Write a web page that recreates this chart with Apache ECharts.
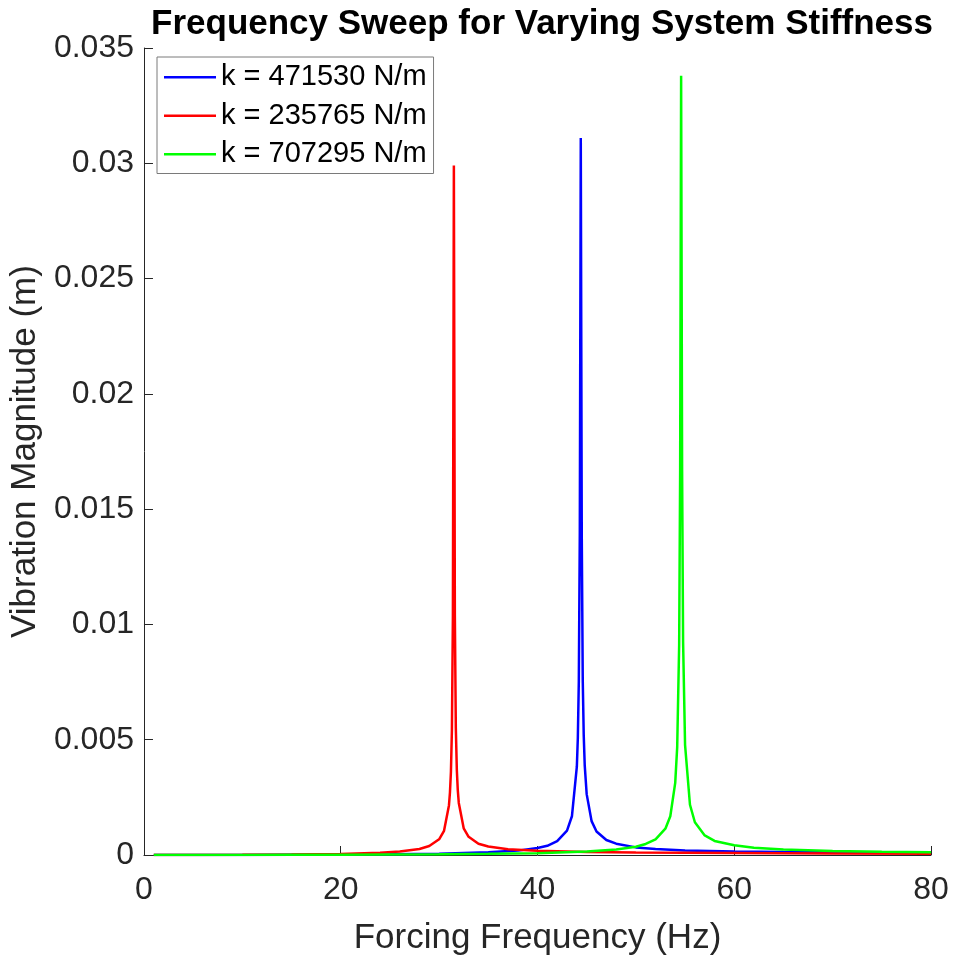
<!DOCTYPE html>
<html>
<head>
<meta charset="utf-8">
<script src="https://cdn.jsdelivr.net/npm/echarts@6/dist/echarts.min.js"></script>
<style>html,body{margin:0;padding:0;background:#fff}#c{width:953px;height:961px}</style>
</head>
<body>
<div id="c"></div>
<script>
var seriesNames = ['k = 471530 N/m', 'k = 235765 N/m', 'k = 707295 N/m'];
var xTicks = [0, 20, 40, 60, 80];
var yTicks = [0, 0.005, 0.01, 0.015, 0.02, 0.025, 0.03, 0.035];

var freqBlue = [1,5,10,15,20,25,30,35,38,40,41,42,43,43.5,44,44.1,44.2,44.3,44.4,44.5,44.6,44.7,44.8,45,45.5,46,47,48,50,52,55,60,65,70,75,80];
var magBlue = [0,0.000001,0.000004,0.000009,0.000018,0.000033,0.000059,0.000115,0.00019,0.0003,0.0004,0.0006,0.00106,0.00168,0.00383,0.00506,0.0075,0.0139,0.0311,0.0139,0.0076,0.0052,0.0039,0.00264,0.00147,0.00102,0.00065,0.00049,0.00033,0.00026,0.0002,0.000155,0.00013,0.00012,0.00011,0.0001];

var freqRed = [1,5,10,15,20,24,26,28,29,30,30.5,31,31.1,31.2,31.3,31.4,31.5,31.6,31.7,31.8,31.9,32,32.5,33,34,35,37,40,45,50,55,60,70,80];
var magRed = [0,0.000002,0.000008,0.00002,0.000047,0.000097,0.00015,0.00026,0.00039,0.00068,0.00105,0.00215,0.0027,0.0036,0.0054,0.0103,0.0299,0.0104,0.0055,0.0037,0.0028,0.00226,0.00116,0.00079,0.00049,0.00037,0.00025,0.00018,0.00013,0.00011,0.0001,0.00009,0.00007,0.00005];

var freqGreen = [1,5,10,15,20,25,30,35,40,45,48,50,51,52,53,53.5,54,54.2,54.4,54.5,54.6,54.7,54.8,55,55.5,56,57,58,60,62,65,70,75,80];
var magGreen = [0,0.0000006,0.0000024,0.0000057,0.000011,0.000019,0.00003,0.000049,0.000081,0.00015,0.00024,0.00036,0.00048,0.00068,0.00114,0.00168,0.00313,0.00467,0.0091,0.0166,0.0338,0.0167,0.00925,0.00478,0.00218,0.00142,0.00085,0.00061,0.00042,0.00031,0.00024,0.00017,0.00014,0.00012];

function pairs(xs, ys) { return xs.map(function (x, i) { return [x, ys[i]]; }); }

var axisCol = '#262626';
var font = '"Liberation Sans", Arial, sans-serif';
var chart = echarts.init(document.getElementById('c'), null, {renderer: 'canvas'});
chart.setOption({
  animation: false,
  backgroundColor: '#ffffff',
  textStyle: {fontFamily: font},
  title: {
    text: 'Frequency Sweep for Varying System Stiffness',
    left: 537, top: 2, textAlign: 'center',
    textStyle: {fontFamily: font, fontWeight: 'bold', fontSize: 35, color: '#000'}
  },
  grid: {left: 143, right: 22, top: 48, bottom: 97, containLabel: false},
  legend: {
    orient: 'vertical', left: 157, top: 57,
    data: seriesNames,
    icon: 'rect',
    itemWidth: 52, itemHeight: 2.5, itemGap: 0,
    padding: [1, 7, 0, 7],
    backgroundColor: '#fff', borderColor: '#7a7a7a', borderWidth: 1, borderRadius: 0,
    textStyle: {fontFamily: font, fontSize: 29, color: '#000', lineHeight: 38.5}
  },
  xAxis: {
    type: 'value', min: xTicks[0], max: xTicks[xTicks.length - 1], interval: 20,
    name: 'Forcing Frequency (Hz)', nameLocation: 'middle', nameGap: 66,
    nameTextStyle: {fontFamily: font, fontSize: 35, color: axisCol},
    axisLine: {show: true, lineStyle: {color: axisCol, width: 1}},
    axisTick: {show: true, inside: true, length: 9, lineStyle: {color: axisCol}},
    axisLabel: {fontFamily: font, fontSize: 32, color: axisCol, margin: 19},
    splitLine: {show: false}
  },
  yAxis: {
    type: 'value', min: yTicks[0], max: yTicks[yTicks.length - 1], interval: 0.005,
    name: 'Vibration Magnitude (m)', nameLocation: 'middle', nameGap: 97,
    nameTextStyle: {fontFamily: font, fontSize: 35, color: axisCol},
    axisLine: {show: true, lineStyle: {color: axisCol, width: 1}},
    axisTick: {show: true, inside: true, length: 9, lineStyle: {color: axisCol}},
    axisLabel: {fontFamily: font, fontSize: 32, color: axisCol, margin: 10},
    splitLine: {show: false}
  },
  series: [
    {name: seriesNames[0], type: 'line', data: pairs(freqBlue, magBlue), symbol: 'none', showSymbol: false,
     lineStyle: {color: '#0000ff', width: 2.5}, itemStyle: {color: '#0000ff'}},
    {name: seriesNames[1], type: 'line', data: pairs(freqRed, magRed), symbol: 'none', showSymbol: false,
     lineStyle: {color: '#ff0000', width: 2.5}, itemStyle: {color: '#ff0000'}},
    {name: seriesNames[2], type: 'line', data: pairs(freqGreen, magGreen), symbol: 'none', showSymbol: false,
     lineStyle: {color: '#00ff00', width: 2.5}, itemStyle: {color: '#00ff00'}}
  ]
});
</script>
</body>
</html>
